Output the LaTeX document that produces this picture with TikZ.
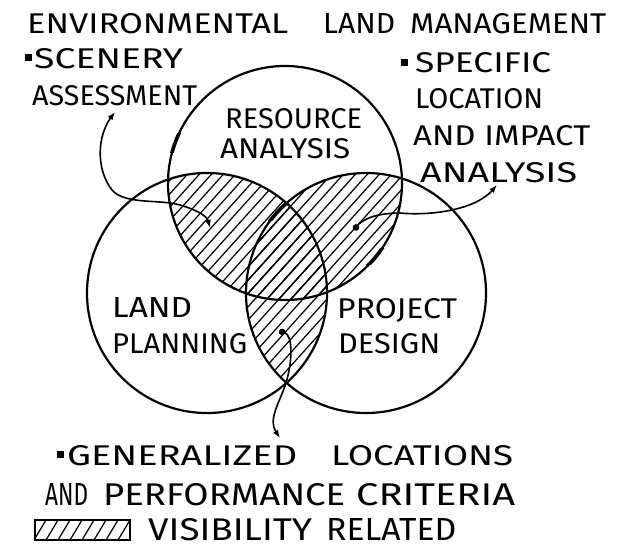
\documentclass[tikz,border=0pt]{standalone}
\usepackage{fontspec}
\setmainfont{Fira Sans}
\usepackage{graphicx}
\usetikzlibrary{arrows.meta}
\tikzset{mytip/.tip={Latex[length=8pt,width=6pt]}, mydot/.tip={Circle[length=6.5pt]}}
\newcommand{\mylbl}[6]{\node[lbl] (#1) at (#2,#3) {\resizebox{#4pt}{#5pt}{#6}};}
\newcommand{\myhatch}{\foreach \c in {-130,-118,...,370} \draw[hatchln] (\c,460) -- ++(400,-444);}
\begin{document}
\begin{tikzpicture}[x=1pt,y=-1pt,
  ring/.style={line width=2.2pt},
  hatchln/.style={line width=1.2pt},
  conn/.style={line width=1.6pt},
  lbl/.style={anchor=base west, inner sep=0pt},
  bulletsq/.style={fill=black, inner sep=0pt, minimum size=7.5pt}]
\useasboundingbox[fill=white] (0,0) rectangle (633,547);

% circle centres
\coordinate (cR) at (285,183);
\coordinate (cL) at (207,293);
\coordinate (cP) at (366,293);

% hatching of the pairwise overlaps
\begin{scope}
  \clip (cR) circle[radius=117pt];
  \clip (cL) circle[radius=120pt];
  \myhatch
\end{scope}
\begin{scope}
  \clip (cR) circle[radius=117pt];
  \clip (cP) circle[radius=120pt];
  \myhatch
\end{scope}
\begin{scope}
  \clip (cL) circle[radius=120pt];
  \clip (cP) circle[radius=120pt];
  \myhatch
\end{scope}

% circles
\draw[ring] (cR) circle[radius=117pt];
\draw[ring] (cL) circle[radius=120pt];
\draw[ring] (cP) circle[radius=120pt];

% darker pen marks on the circles
\begin{scope}
  \clip (160,133) rectangle (186,152);
  \draw[line width=3.6pt] (cR) circle[radius=117pt];
\end{scope}
\begin{scope}
  \clip (268,203) rectangle (290,220);
  \draw[line width=3.6pt] (cP) circle[radius=120pt];
\end{scope}
\begin{scope}
  \clip (365,248) rectangle (390,264);
  \draw[line width=3.6pt] (cR) circle[radius=117pt];
\end{scope}

% texts
\mylbl{t1}{27}{33}{261}{20}{ENVIRONMENTAL}
\mylbl{t2}{323}{33}{72}{20}{LAND}
\mylbl{t3}{410}{33}{196}{20}{MANAGEMENT}
\node[bulletsq] (b1) at (28.5,57.5) {};
\mylbl{s1}{34}{68}{149}{20}{SCENERY}
\mylbl{s2}{32}{105}{165}{20}{ASSESSMENT}
\mylbl{r1}{225}{128}{137}{20}{RESOURCE}
\mylbl{r2}{220}{158}{130}{20}{ANALYSIS}
\node[bulletsq] (b2) at (404.5,62.5) {};
\mylbl{p1}{415}{72}{136}{20}{SPECIFIC}
\mylbl{p2}{415}{108}{128}{20}{LOCATION}
\mylbl{p3}{413}{145}{177}{20}{AND IMPACT}
\mylbl{p4}{420}{182}{157}{20}{ANALYSIS}
\mylbl{l1}{112}{317}{80}{20}{LAND}
\mylbl{l2}{112}{353}{135}{20}{PLANNING}
\mylbl{d1}{337}{318}{120}{20}{PROJECT}
\mylbl{d2}{338}{353}{102}{20}{DESIGN}
\node[bulletsq] (b3) at (60.5,454.5) {};
\mylbl{g1}{67}{465}{230}{20}{GENERALIZED}
\mylbl{g2}{331}{465}{182}{20}{LOCATIONS}
\mylbl{g3}{45}{505}{43}{22}{AND}
\mylbl{g4}{103}{505}{242}{22}{PERFORMANCE}
\mylbl{g5}{356}{505}{159}{22}{CRITERIA}
\mylbl{v1}{148}{540}{164}{22}{VISIBILITY}
\mylbl{v2}{326}{540}{130}{22}{RELATED}

% legend swatch
\coordinate (lg1) at (35,520);
\coordinate (lg2) at (130,540);
\begin{scope}
  \clip (lg1) rectangle (lg2);
  \foreach \c in {22,34,...,142} \draw[hatchln] (\c,540) -- ++(12,-20);
\end{scope}
\draw[line width=1.5pt] (lg1) rectangle (lg2);

% connectors
\coordinate (sa) at (115,112);
\coordinate (sb) at (210,228);
\draw[conn, {mytip}-{mytip}] (sa) .. controls (98,135) and (95,168) .. (112,190)
  .. controls (125,205) and (160,199) .. (180,205)
  .. controls (197,210) and (207,216) .. (sb);

\coordinate (ra) at (354,230);
\coordinate (rb) at (497,185);
\draw[conn, {mydot}-{mytip}] (ra) .. controls (362,220) and (375,213) .. (400,213)
  .. controls (430,216) and (475,210) .. (rb);

\coordinate (ga) at (279,331);
\coordinate (gb) at (280,438);
\draw[conn, {mydot}-{mytip}] (ga) .. controls (293,335) and (293,362) .. (285,386)
  .. controls (279,403) and (268,420) .. (gb);
\end{tikzpicture}
\end{document}
